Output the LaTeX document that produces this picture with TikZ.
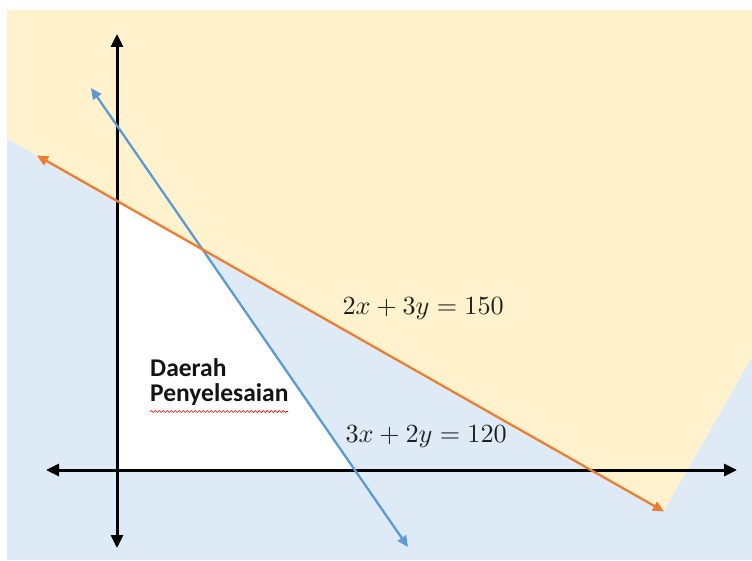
\documentclass[tikz,border=0pt]{standalone}
\usepackage{fontspec}
\newfontfamily\calibri{Carlito}
\usetikzlibrary{arrows.meta,decorations.pathmorphing}
\definecolor{peach}{HTML}{FFF2CC}
\definecolor{lblue}{HTML}{DEEBF7}
\definecolor{lineblue}{HTML}{5B9BD5}
\definecolor{lineorange}{HTML}{ED7D31}
\begin{document}
\begin{tikzpicture}[x=1pt,y=-1pt,
  axisline/.style={line width=3pt,{Triangle[length=13pt,width=12pt]}-{Triangle[length=13pt,width=12pt]}},
  constraint/.style={line width=2.3pt,{Triangle[length=11pt,width=10pt]}-{Triangle[length=11pt,width=10pt]}},
  eqlabel/.style={anchor=base west,inner sep=0pt,scale=2.62,text=black!88},
  regionlabel/.style={anchor=base west,inner sep=0pt,text=black!92,font=\calibri\bfseries\fontsize{25.5}{30}\selectfont}]
\useasboundingbox (0,0) rectangle (752,561);
% background regions
\fill[lblue] (7,10) rectangle (752,560);
\fill[peach] (7,10) -- (752,10) -- (752,357) -- (663.5,511.5) -- (7,138.4) -- cycle;
\fill[white] (117,200.9) -- (202.6,249.5) -- (354.6,470) -- (117,470) -- cycle;
% coordinates
\coordinate (yt) at (117,34);
\coordinate (yb) at (117,548);
\coordinate (xl) at (46,470);
\coordinate (xr) at (737,470);
\coordinate (o1) at (37,155.5);
\coordinate (o2) at (664,511.5);
\coordinate (b1) at (91,88);
\coordinate (b2) at (408,547);
% axes
\draw[axisline] (yb) -- (yt);
\draw[axisline] (xl) -- (xr);
% constraint lines
\draw[constraint,lineblue] (b1) -- (b2);
\draw[constraint,lineorange] (o1) -- (o2);
% labels
\node[eqlabel] (e1) at (342,314) {$2x+3y=150$};
\node[eqlabel] (e2) at (345,442) {$3x+2y=120$};
\node[regionlabel] (d1) at (150,376.5) {Daerah};
\node[regionlabel] (d2) at (150,401) {Penyelesaian};
\coordinate (w1) at (150,411.5);
\coordinate (w2) at (288,411.5);
\draw[red,line width=0.7pt,decorate,decoration={snake,amplitude=1pt,segment length=4pt}] (w1) -- (w2);
\end{tikzpicture}
\end{document}
